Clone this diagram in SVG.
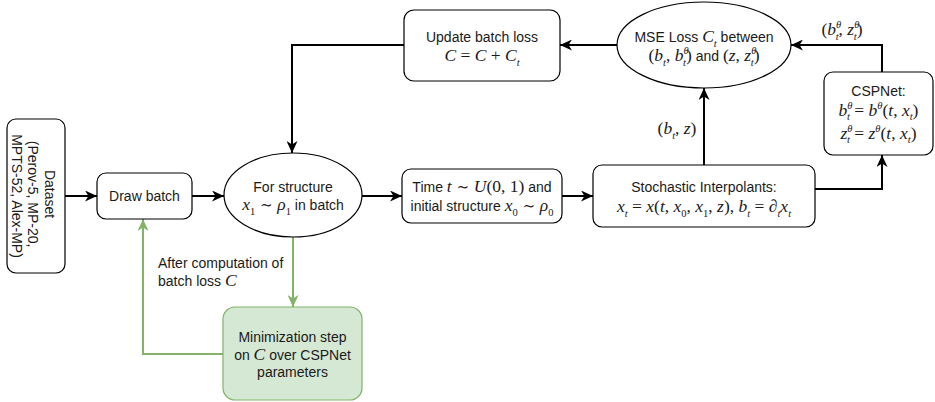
<svg xmlns="http://www.w3.org/2000/svg" width="935" height="402" viewBox="0 0 935 402">
  <style>
    .n { fill: #ffffff; stroke: #000000; stroke-width: 1.2; }
    .g { fill: #d5e8d4; stroke: #82b366; stroke-width: 1.2; }
    .e { fill: none; stroke: #000000; stroke-width: 2; }
    .eg { fill: none; stroke: #82b366; stroke-width: 2; }
    .t { font-family: "Liberation Sans", Arial, sans-serif; font-size: 14px; fill: #1a1a1a; }
    .m { font-family: "Liberation Serif", "DejaVu Serif", serif; font-style: italic; font-size: 17.5px; fill: #1a1a1a; }
    .r { font-style: normal; }
    .s { font-size: 10.5px; }
    .sym { font-family: "DejaVu Serif", serif; font-style: normal; font-size: 15px; }
  </style>
  <defs>
    <marker id="ah" viewBox="0 0 12 11" refX="12" refY="5.5" markerWidth="12" markerHeight="11" markerUnits="userSpaceOnUse" orient="auto">
      <path d="M0,0 L12,5.5 L0,11 L3.5,5.5 Z" fill="#000000"/>
    </marker>
    <marker id="ahg" viewBox="0 0 12 11" refX="12" refY="5.5" markerWidth="12" markerHeight="11" markerUnits="userSpaceOnUse" orient="auto">
      <path d="M0,0 L12,5.5 L0,11 L3.5,5.5 Z" fill="#82b366"/>
    </marker>
  </defs>

  <!-- connectors -->
  <g id="connectors">
    <path class="e" d="M65,196 L97,196" marker-end="url(#ah)"/>
    <path class="e" d="M192,196 L224,196" marker-end="url(#ah)"/>
    <path class="e" d="M362,196 L402,196" marker-end="url(#ah)"/>
    <path class="e" d="M562,196 L593,196" marker-end="url(#ah)"/>
    <path class="e" d="M704,165 L704,88" marker-end="url(#ah)"/>
    <path class="e" d="M815,189 L882,189 L882,155" marker-end="url(#ah)"/>
    <path class="e" d="M882,72 L882,45 L791,45" marker-end="url(#ah)"/>
    <path class="e" d="M617,45 L560,45" marker-end="url(#ah)"/>
    <path class="e" d="M404,45 L292,45 L292,153" marker-end="url(#ah)"/>
    <path class="eg" d="M293,237 L293,307" marker-end="url(#ahg)"/>
    <path class="eg" d="M223,354 L143,354 L143,219" marker-end="url(#ahg)"/>
    <!-- edge labels -->
    <text class="m" x="677" y="134" text-anchor="middle"><tspan class="r">(</tspan>b<tspan class="s" dy="5">t</tspan><tspan class="r" dy="-5">, </tspan>z<tspan class="r">)</tspan></text>
    <text class="m" x="842" y="35" text-anchor="middle"><tspan class="r">(</tspan>b<tspan class="s" dy="-7">θ</tspan><tspan class="s" dx="-5.5" dy="12">t</tspan><tspan class="r" dy="-5">, </tspan>z<tspan class="s" dy="-7">θ</tspan><tspan class="s" dx="-5.5" dy="12">t</tspan><tspan class="r" dy="-5">)</tspan></text>
    <text class="t" x="158" y="268">After computation of</text>
    <text class="t" x="158" y="286">batch loss <tspan class="m">C</tspan></text>
  </g>

  <g id="dataset">
    <rect class="n" x="7" y="119" width="58" height="154" rx="9"/>
    <text class="t" transform="translate(36,196) rotate(90)" text-anchor="middle">
      <tspan x="0" y="-9">Dataset</tspan>
      <tspan x="0" y="8">(Perov-5, MP-20,</tspan>
      <tspan x="0" y="24">MPTS-52, Alex-MP)</tspan>
    </text>
  </g>

  <g id="draw-batch">
    <rect class="n" x="97" y="173" width="95" height="46" rx="9"/>
    <text class="t" x="144.5" y="201" text-anchor="middle">Draw batch</text>
  </g>

  <g id="for-structure">
    <ellipse class="n" cx="293" cy="195" rx="69" ry="42"/>
    <text class="t" x="293" y="192" text-anchor="middle">For structure</text>
    <text class="t" x="293" y="210" text-anchor="middle"><tspan class="m">x</tspan><tspan class="m r s" dy="5">1</tspan><tspan class="sym" dy="-5"> ∼ </tspan><tspan class="m">ρ</tspan><tspan class="m r s" dy="5">1</tspan><tspan dy="-5"> in batch</tspan></text>
  </g>

  <g id="time-sample">
    <rect class="n" x="402" y="169" width="160" height="54" rx="9"/>
    <text class="t" x="482" y="192" text-anchor="middle">Time <tspan class="m">t</tspan><tspan class="sym"> ∼ </tspan><tspan class="m">U</tspan><tspan class="m r">(0, 1)</tspan> and</text>
    <text class="t" x="482" y="211" text-anchor="middle">initial structure <tspan class="m">x</tspan><tspan class="m r s" dy="5">0</tspan><tspan class="sym" dy="-5"> ∼ </tspan><tspan class="m">ρ</tspan><tspan class="m r s" dy="5">0</tspan></text>
  </g>

  <g id="interpolants">
    <rect class="n" x="593" y="165" width="222" height="62" rx="9"/>
    <text class="t" x="704" y="192" text-anchor="middle">Stochastic Interpolants:</text>
    <text class="m" x="704" y="212" text-anchor="middle">x<tspan class="s" dy="5">t</tspan><tspan class="r" dy="-5"> = </tspan>x<tspan class="r">(</tspan>t<tspan class="r">, </tspan>x<tspan class="s r" dy="5">0</tspan><tspan class="r" dy="-5">, </tspan>x<tspan class="s r" dy="5">1</tspan><tspan class="r" dy="-5">, </tspan>z<tspan class="r">), </tspan>b<tspan class="s" dy="5">t</tspan><tspan class="r" dy="-5"> = ∂</tspan><tspan class="s" dy="5">t</tspan><tspan dy="-5">x</tspan><tspan class="s" dy="5">t</tspan></text>
  </g>

  <g id="cspnet">
    <rect class="n" x="824" y="72" width="109" height="83" rx="9"/>
    <text class="t" x="878.5" y="96" text-anchor="middle">CSPNet:</text>
    <text class="m" x="878.5" y="116" text-anchor="middle">b<tspan class="s" dy="-7">θ</tspan><tspan class="s" dx="-5.5" dy="11">t</tspan><tspan class="r" dy="-4"> = </tspan>b<tspan class="s" dy="-7">θ</tspan><tspan class="r" dy="7">(</tspan>t<tspan class="r">, </tspan>x<tspan class="s" dy="4">t</tspan><tspan class="r" dy="-4">)</tspan></text>
    <text class="m" x="878.5" y="139" text-anchor="middle">z<tspan class="s" dy="-7">θ</tspan><tspan class="s" dx="-5.5" dy="11">t</tspan><tspan class="r" dy="-4"> = </tspan>z<tspan class="s" dy="-7">θ</tspan><tspan class="r" dy="7">(</tspan>t<tspan class="r">, </tspan>x<tspan class="s" dy="4">t</tspan><tspan class="r" dy="-4">)</tspan></text>
  </g>

  <g id="mse-loss">
    <ellipse class="n" cx="704" cy="45" rx="87" ry="43"/>
    <text class="t" x="704" y="42" text-anchor="middle">MSE Loss <tspan class="m">C</tspan><tspan class="m s" dy="5">t</tspan><tspan dy="-5"> between</tspan></text>
    <text class="t" x="704" y="61" text-anchor="middle"><tspan class="m r">(</tspan><tspan class="m">b</tspan><tspan class="m s" dy="5">t</tspan><tspan class="m r" dy="-5">, </tspan><tspan class="m">b</tspan><tspan class="m s" dy="-7">θ</tspan><tspan class="m s" dx="-5.5" dy="12">t</tspan><tspan class="m r" dy="-5">)</tspan> and <tspan class="m r">(</tspan><tspan class="m">z</tspan><tspan class="m r">, </tspan><tspan class="m">z</tspan><tspan class="m s" dy="-7">θ</tspan><tspan class="m s" dx="-5.5" dy="12">t</tspan><tspan class="m r" dy="-5">)</tspan></text>
  </g>

  <g id="update-loss">
    <rect class="n" x="404" y="10" width="156" height="71" rx="10"/>
    <text class="t" x="482" y="42" text-anchor="middle">Update batch loss</text>
    <text class="m" x="482" y="61" text-anchor="middle">C<tspan class="r"> = </tspan>C<tspan class="r"> + </tspan>C<tspan class="s" dy="5">t</tspan></text>
  </g>

  <g id="minimization">
    <rect class="g" x="223" y="307" width="139" height="93" rx="12"/>
    <text class="t" x="292.5" y="342" text-anchor="middle">Minimization step</text>
    <text class="t" x="292.5" y="360" text-anchor="middle">on <tspan class="m">C</tspan> over CSPNet</text>
    <text class="t" x="292.5" y="377" text-anchor="middle">parameters</text>
  </g>
</svg>
